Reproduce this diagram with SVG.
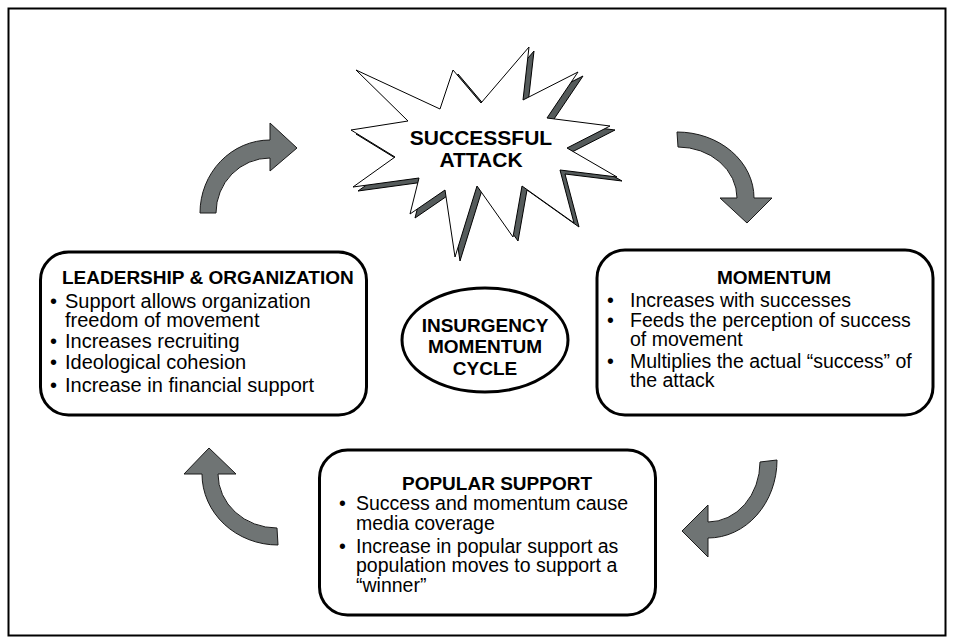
<svg xmlns="http://www.w3.org/2000/svg" width="954" height="643" viewBox="0 0 954 643">
<style>
text{font-family:"Liberation Sans",Arial,sans-serif;fill:#000}
.t{font-size:19px;font-weight:bold}
.b{font-size:20px}
.s{font-size:19.5px}
.c{text-anchor:middle}
.box{fill:#fff;stroke:#000;stroke-width:3}
.arr{fill:#6f7474;stroke:#1a1a1a;stroke-width:1}
</style>
<rect x="0" y="0" width="954" height="643" fill="#fff"/>
<rect x="8.5" y="8.5" width="937" height="627" fill="none" stroke="#000" stroke-width="2"/>

<g id="attack">
<polygon transform="translate(5,4)" fill="#555b5b" stroke="#000" stroke-width="1" points="356,70 440,109 453,70 481,103 529,47 523,100 578,72 547,118 610,126 567,148 617,177 560,170 574,223 522,186 513,237 477,186 455,257 445,190 410,214 419,178 353,187 395,157 351,130 408,121"/>
<polygon fill="#fff" stroke="#000" stroke-width="1" points="356,70 440,109 453,70 481,103 529,47 523,100 578,72 547,118 610,126 567,148 617,177 560,170 574,223 522,186 513,237 477,186 455,257 445,190 410,214 419,178 353,187 395,157 351,130 408,121"/>
<text class="c" style="font-size:21px;font-weight:bold"><tspan x="481" y="145">SUCCESSFUL</tspan><tspan x="481" y="167">ATTACK</tspan></text>
</g>

<g id="leadership">
<rect class="box" x="40.5" y="252" width="326" height="163" rx="28"/>
<text class="t" x="62" y="284">LEADERSHIP &amp; ORGANIZATION</text>
<text class="b"><tspan x="50" y="308">•</tspan><tspan x="65" y="308">Support allows organization</tspan><tspan x="65" y="327">freedom of movement</tspan><tspan x="50" y="348">•</tspan><tspan x="65" y="348">Increases recruiting</tspan><tspan x="50" y="369">•</tspan><tspan x="65" y="369">Ideological cohesion</tspan><tspan x="50" y="392">•</tspan><tspan x="65" y="392">Increase in financial support</tspan></text>
</g>

<g id="momentum">
<rect class="box" x="597" y="250" width="336" height="165" rx="28"/>
<text class="t c" x="774" y="284">MOMENTUM</text>
<text class="s"><tspan x="607" y="307">•</tspan><tspan x="630" y="307">Increases with successes</tspan><tspan x="607" y="327">•</tspan><tspan x="630" y="327">Feeds the perception of success</tspan><tspan x="630" y="346">of movement</tspan><tspan x="607" y="368">•</tspan><tspan x="630" y="368">Multiplies the actual “success” of</tspan><tspan x="630" y="387">the attack</tspan></text>
</g>

<g id="popular">
<rect class="box" x="319.5" y="450" width="336" height="165" rx="28"/>
<text class="t c" x="497" y="490">POPULAR SUPPORT</text>
<text class="s"><tspan x="339" y="510">•</tspan><tspan x="356" y="510">Success and momentum cause</tspan><tspan x="356" y="530">media coverage</tspan><tspan x="339" y="553">•</tspan><tspan x="356" y="553">Increase in popular support as</tspan><tspan x="356" y="572">population moves to support a</tspan><tspan x="356" y="592">“winner”</tspan></text>
</g>

<g id="cycle">
<ellipse cx="485" cy="340" rx="83" ry="52" fill="#fff" stroke="#000" stroke-width="3"/>
<text class="t c"><tspan x="485" y="332">INSURGENCY</tspan><tspan x="485" y="353">MOMENTUM</tspan><tspan x="485" y="375">CYCLE</tspan></text>
</g>

<g id="connectors">
<path class="arr" d="M200,213 A70,73 0 0 1 270,140 L270,123 L297,148 L270,171 L270,158 A54,55 0 0 0 216,213 Z"/>
<path class="arr" d="M677,132 A77,66 0 0 1 754,198 L772,198 L747,223 L720,198 L737,198 A59,51 0 0 0 678,147 Z"/>
<path class="arr" d="M777,460 A69,78 0 0 1 708,538 L708,557 L682,531 L708,505 L708,522 A52,60 0 0 0 760,462 Z"/>
<path class="arr" d="M278,545 A76,71 0 0 1 202,474 L184,474 L209,448 L236,474 L218,474 A59,54 0 0 0 277,528 Z"/>
</g>
</svg>
